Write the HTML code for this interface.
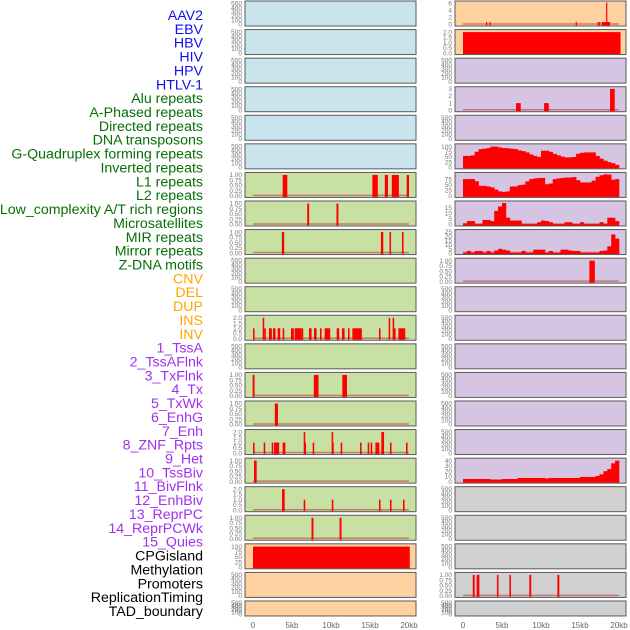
<!DOCTYPE html>
<html><head><meta charset="utf-8">
<style>
html,body{margin:0;padding:0;background:#fff;}
svg{display:block;font-family:"Liberation Sans",sans-serif;}
</style></head>
<body>
<svg id="chart" width="630" height="630" viewBox="0 0 630 630" xmlns="http://www.w3.org/2000/svg"></svg>
<script>
const trackLabels = ["AAV2","EBV","HBV","HIV","HPV","HTLV-1","Alu repeats","A-Phased repeats","Directed repeats","DNA transposons","G-Quadruplex forming repeats","Inverted repeats","L1 repeats","L2 repeats","Low_complexity A/T rich regions","Microsatellites","MIR repeats","Mirror repeats","Z-DNA motifs","CNV","DEL","DUP","INS","INV","1_TssA","2_TssAFlnk","3_TxFlnk","4_Tx","5_TxWk","6_EnhG","7_Enh","8_ZNF_Rpts","9_Het","10_TssBiv","11_BivFlnk","12_EnhBiv","13_ReprPC","14_ReprPCWk","15_Quies","CPGisland","Methylation","Promoters","ReplicationTiming","TAD_boundary"];
const labelColors = ["#1010ee","#1010ee","#1010ee","#1010ee","#1010ee","#1010ee","#067006","#067006","#067006","#067006","#067006","#067006","#067006","#067006","#067006","#067006","#067006","#067006","#067006","#ffa500","#ffa500","#ffa500","#ffa500","#ffa500","#a030f0","#a030f0","#a030f0","#a030f0","#a030f0","#a030f0","#a030f0","#a030f0","#a030f0","#a030f0","#a030f0","#a030f0","#a030f0","#a030f0","#a030f0","#000","#000","#000","#000","#000"];
const leftFill = ["blue","blue","blue","blue","blue","blue","green","green","green","green","green","green","green","green","green","green","green","green","green","orange","orange","orange"];
const rightFill = ["orange","orange","purple","purple","purple","purple","purple","purple","purple","purple","purple","purple","purple","purple","purple","purple","purple","gray","gray","gray","gray","gray"];
const xTicks = [0,5,10,15,20];
const xTickLabels = ["0","5kb","10kb","15kb","20kb"];
const tick1 = [0,0.25,0.5,0.75,1];
const tick1Labels = ["0.00","0.25","0.50","0.75","1.00"];
const tick2 = [0,0.5,1,1.5,2];
const tick2Labels = ["0.0","0.5","1.0","1.5","2.0"];
const tickE = [0,100,200,300,400,500];
const leftBars = {
 6: [[3.8,4.4,1],[15.3,16.0,1],[16.9,17.3,1],[17.8,18.7,1],[19.7,20.0,1]],
 7: [[6.95,7.2,1],[10.7,10.95,1]],
 8: [[3.7,4.0,1],[16.4,16.7,1],[17.5,17.7,1],[19.1,19.3,1]],
 11: [[0.0,1],[1.24,2],[1.45,1],[2.05,1],[2.22,1],[2.56,1],[2.69,1],[3.16,1],[3.29,1],[3.8,1],[4.87,1],[5.04,1],[5.34,1],[5.47,1],[5.6,1],[5.73,1],[5.85,1],[6.03,1],[6.24,1],[7.18,1],[7.31,1],[7.82,1],[7.95,1],[8.59,1],[9.19,1],[9.36,1],[9.53,1],[9.7,1],[10.73,1],[10.85,1],[11.41,1],[11.54,1],[12.18,1],[12.74,1],[12.91,1],[13.08,1],[13.25,1],[13.42,1],[13.59,1],[13.76,1],[16.15,1],[17.39,2],[17.9,2],[18.08,1],[18.63,1],[18.8,1],[18.97,1],[19.15,1],[19.32,1]],
 13: [[-0.05,0.2,1],[7.8,8.4,1],[11.45,12.05,1]],
 14: [[2.8,3.2,1]],
 15: [[0.0,1],[1.37,1],[2.4,1],[2.7,1],[2.85,1],[3.0,1],[3.15,1],[3.8,1],[3.95,1],[6.5,2],[6.6,1],[7.65,1],[10.08,2],[10.15,1],[11.24,1],[13.72,1],[14.7,1],[15.09,1],[15.69,1],[15.85,1],[16.0,1],[16.45,2],[16.6,2],[17.56,1],[19.62,1]],
 16: [[0.13,0.47,1]],
 17: [[3.72,4.06,2],[6.5,1],[10.1,1],[16.15,1],[17.56,1],[19.23,1]],
 18: [[7.5,7.75,1],[11.1,11.35,1]],
 19: [[0.0,20.1,100]]
};
const rightBars = {
 0: [[2.95,3.1,0.7],[3.4,3.55,0.7],[14.45,14.6,0.7],[17.25,17.4,0.7],[17.45,17.6,0.7],[17.8,18.85,0.7],[18.35,18.5,7]],
 1: [[0.0,20.2,2]],
 3: [[6.8,7.4,1],[10.4,11.0,1],[18.85,19.45,3]],
 9: [[16.2,16.9,1]],
 20: [[1.25,1.5,1],[1.75,2.1,1],[4.35,4.55,1],[5.95,6.15,1],[8.5,8.75,1],[12.1,12.35,1]]
};
const gquadValues = [55,55,58,75,88,90,93,100,100,96,93,92,90,88,82,78,72,62,55,50,80,80,75,65,58,52,48,48,50,65,70,72,72,72,55,42,32,25,20,12];
const l2Values = [75,75,75,65,45,45,42,38,28,20,18,20,42,42,48,50,65,75,78,80,80,52,55,75,78,80,82,82,84,70,60,60,60,68,85,92,96,95,72,75];
const lowCxValues = [1,3,3,0.3,0.3,4,4,3,12,16,19,6,3.5,3.5,3.5,0.3,0.3,0.3,0.3,2,3.5,3,2,0.3,0.3,0.3,2,2,0.3,0.3,2,0.3,0.3,0.3,0.3,2,0.3,6,6,3];
const mirValues = [0.3,2.5,0.3,2.5,2.5,0.3,2.5,0.3,3,5,4,3,0.3,0.3,0.3,2.5,0.3,0.3,4,4,4,0.3,2.5,0.3,0.3,4,4,3,2.5,2.5,0.3,0.3,0.3,0.3,0.3,2.5,3,8,22,17];
const hetValues = [5,5,5,5,5,5,5,4,4,4,5,5,5,5,7,7,7,7,7,7,7,6,7,7,7,7,7,7,7,7,9,9,9,9,11,14,20,24,35,40];
const rightCurves = {5:gquadValues, 6:l2Values, 7:lowCxValues, 8:mirValues, 16:hetValues};
const leftAxis = {6:"t1",7:"t1",8:"t1",11:"t2",13:"t1",14:"t1",15:"t2",16:"t1",17:"t2",18:"t1",19:"t100"};
const rightAxis = {0:"t6",1:"t2",3:"t3",5:"t100",6:"t75",7:"t15",8:"t25",9:"t1",16:"t40",20:"t1"};

const fills = {blue:"#c9e4ec",orange:"#ffd0a0",green:"#c8e0a4",purple:"#d5c5e2",gray:"#d0d0d0"};
const NS = "http://www.w3.org/2000/svg";
const svg = document.getElementById("chart");
function mk(tag, attrs, parent){const e=document.createElementNS(NS,tag);for(const k in attrs)e.setAttribute(k,attrs[k]);(parent||svg).appendChild(e);return e;}

function axisSpec(code){
 if(code==="t1") return {ticks:tick1,labels:tick1Labels,max:1.05};
 if(code==="t2") return {ticks:tick2,labels:tick2Labels,max:2.1};
 if(code==="t100") return {ticks:[0,25,50,75,100],labels:["0","25","50","75","100"],max:106};
 if(code==="t75") return {ticks:[0,25,50,75],labels:["0","25","50","75"],max:98};
 if(code==="t15") return {ticks:[0,5,10,15],labels:["0","5","10","15"],max:19.5};
 if(code==="t25") return {ticks:[0,5,10,15,20,25],labels:["0","5","10","15","20","25"],max:26};
 if(code==="t40") return {ticks:[0,10,20,30,40],labels:["0","10","20","30","40"],max:42};
 if(code==="t6") return {ticks:[0,2,4,6],labels:["0","2","4","6"],max:6.2};
 if(code==="t3") return {ticks:[0,1,2,3],labels:["0","1","2","3"],max:3.1};
 return {ticks:tickE,labels:tickE.map(String),max:520};
}

trackLabels.forEach((t,i)=>{
 const e=mk("text",{x:203,y:15+13.86*i+5,"text-anchor":"end","font-size":"14.2",fill:labelColors[i]});
 e.textContent=t;
 
 
});

function drawPanel(px, i, color, axisCode, bars, curve, side){
 const top=1+28.57*i, h=(i===21)?15:25, w=171;
 const g=mk("g",{});
 
 
 mk("rect",{x:px,y:top,width:w,height:h,fill:fills[color],stroke:"#5a5a5a","stroke-width":1},g);
 const spec=axisSpec(axisCode);
 const y0=top+h-1.5, yh=h-3;
 const ys=v=>y0-Math.min(v,spec.max)/spec.max*yh;
 const xs=kb=>px+8+kb*7.8;
 spec.ticks.forEach((v,k)=>{
  const t=mk("text",{x:px-3,y:ys(v)+2.2,"text-anchor":"end","font-size":"6.5",fill:"#777"},g);
  t.textContent=spec.labels[k];
  
  
 });
 const hasData=(bars&&bars.length)||curve;
 if(hasData && !(side==="right"&&i===1) && !(side==="left"&&i===19)){
  mk("line",{x1:xs(0),x2:xs(20),y1:y0-0.5,y2:y0-0.5,stroke:"rgba(190,30,30,0.5)","stroke-width":1.5},g);
 }
 if(bars) bars.forEach(b=>{
  let s,e,v; if(b.length===2){s=b[0];e=b[0]+0.2;v=b[1];} else {s=b[0];e=b[1];v=b[2];}
  const r=mk("rect",{x:xs(s),y:ys(v),width:Math.max(1.2,xs(e)-xs(s)),height:y0-ys(v)+1,fill:"#ff0000"},g);
  
  
 });
 if(curve) curve.forEach((v,k)=>{
  const r=mk("rect",{x:xs(k*0.5),y:ys(v),width:7.8*0.5+0.3,height:y0-ys(v)+1,fill:"#ff0000"},g);
  
  
 });
}
for(let i=0;i<22;i++){
 drawPanel(245,i,leftFill[i],leftAxis[i]||"e",leftBars[i],null,"left");
 drawPanel(455,i,rightFill[i],rightAxis[i]||"e",rightBars[i],rightCurves[i],"right");
}
[245,455].forEach(px=>{
 xTicks.forEach((kb,k)=>{
  const t=mk("text",{x:px+8+kb*7.8,y:628,"text-anchor":"middle","font-size":"8",fill:"#666"});
  t.textContent=xTickLabels[k];
  
  
 });
});
</script>
</body></html>
